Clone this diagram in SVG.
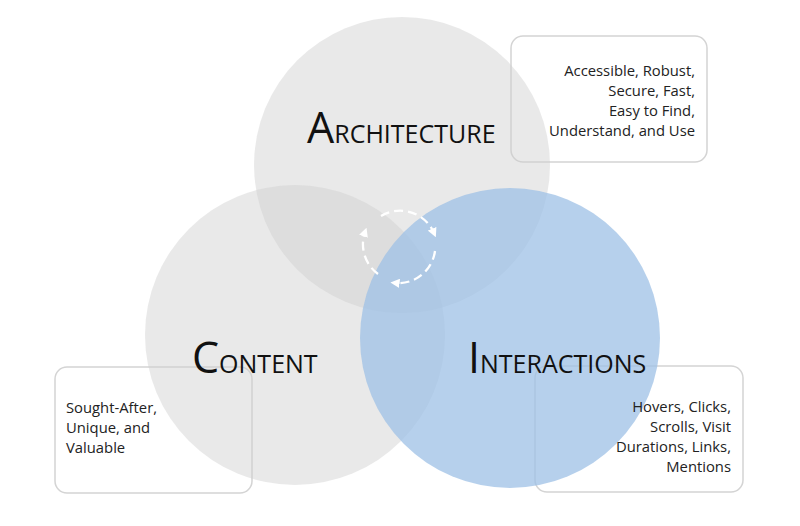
<svg xmlns="http://www.w3.org/2000/svg" width="800" height="526" viewBox="0 0 800 526">
<style>
.box{fill:#fff;stroke:#d4d4d4;stroke-width:1.5}
.t{font-family:"Open Sans","Liberation Sans",sans-serif;font-size:14.8px;fill:#222}
.h{font-family:"Open Sans","Liberation Sans",sans-serif;fill:#111}
.g{fill:#cfcfcf;fill-opacity:0.45}
</style>
<defs>
<marker id="ar" viewBox="0 0 10 10" refX="5" refY="5" markerWidth="4" markerHeight="4" orient="auto"><path d="M0,0L10,5L0,10z" fill="#fff"/></marker>
</defs>
<rect width="800" height="526" fill="#fff"/>
<g id="box-arch"><rect class="box" x="511" y="36" width="196" height="126" rx="12"/>
<text class="t" text-anchor="end"><tspan x="695" y="76">Accessible, Robust,</tspan><tspan x="695" y="96">Secure, Fast,</tspan><tspan x="695" y="116">Easy to Find,</tspan><tspan x="695" y="136">Understand, and Use</tspan></text></g>
<g id="box-content"><rect class="box" x="55" y="367" width="197" height="126" rx="12"/>
<text class="t"><tspan x="66" y="413">Sought-After,</tspan><tspan x="66" y="433">Unique, and</tspan><tspan x="66" y="453">Valuable</tspan></text></g>
<g id="box-inter"><rect class="box" x="535" y="366" width="208" height="126" rx="12"/></g>
<g id="architecture"><circle class="g" cx="402" cy="165" r="148"/></g>
<g id="content"><circle class="g" cx="295" cy="335" r="150"/></g>
<g id="interactions"><circle cx="510" cy="338" r="150" fill="#9dc0e6" fill-opacity="0.75"/></g>
<g id="box-inter-text"><text class="t" text-anchor="end"><tspan x="731" y="412">Hovers, Clicks,</tspan><tspan x="731" y="432">Scrolls, Visit</tspan><tspan x="731" y="452">Durations, Links,</tspan><tspan x="731" y="472">Mentions</tspan></text></g>
<g id="labels">
<text class="h" x="307" y="143" font-size="43">A<tspan font-size="25">RCHITECTURE</tspan></text>
<text class="h" x="192" y="373" font-size="43">C<tspan font-size="25">ONTENT</tspan></text>
<text class="h" x="468" y="373" font-size="43">I<tspan font-size="25">NTERACTIONS</tspan></text>
</g>
<g id="connectors" fill="none" stroke="#fff" stroke-width="2.3" stroke-dasharray="9,5">
<path d="M381,216 A37,37 0 0 1 434,233" marker-end="url(#ar)"/>
<path d="M435,251 A37,37 0 0 1 395,283" marker-end="url(#ar)"/>
<path d="M378,274 A37,37 0 0 1 365,232" marker-end="url(#ar)"/>
</g>
</svg>
